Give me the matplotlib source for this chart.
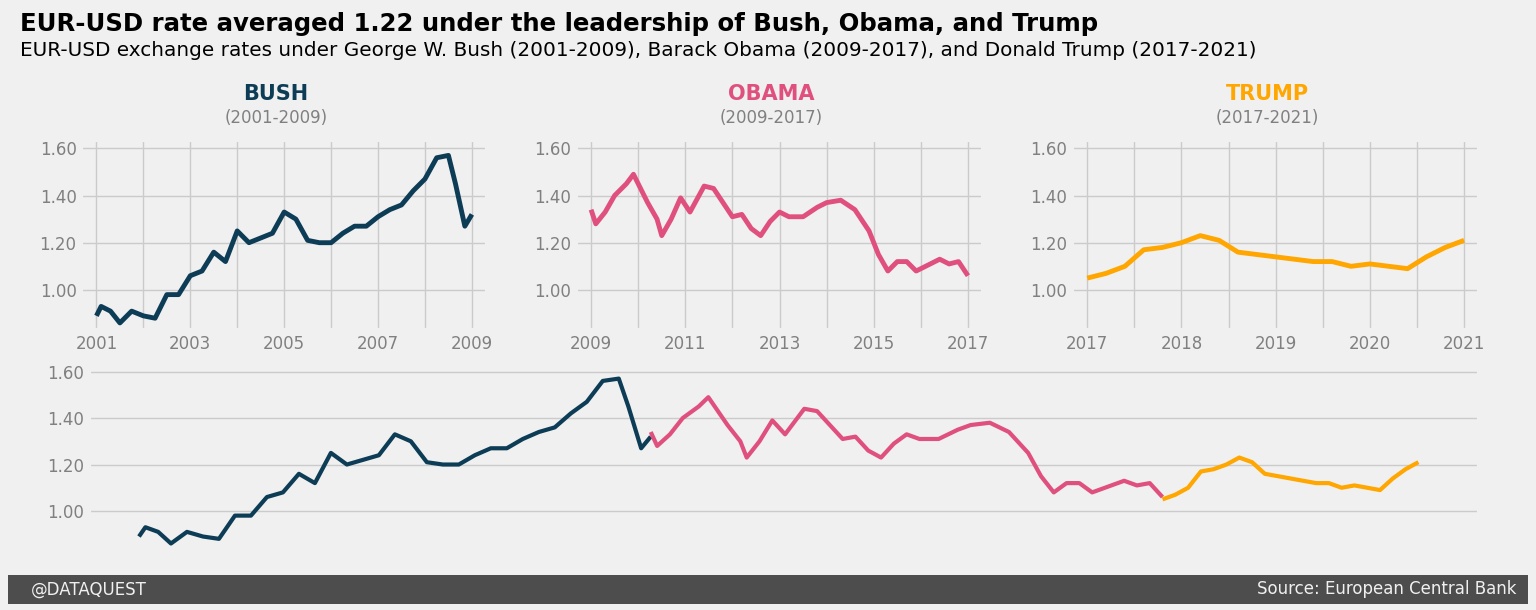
import matplotlib
matplotlib.use("Agg")
from matplotlib import pyplot as plt
from matplotlib.patches import Rectangle

plt.style.use("fivethirtyeight")

# decimal year / rate (30-day rolling mean)
bush_x = [2001.0, 2001.1, 2001.3, 2001.5, 2001.75, 2002.0, 2002.25, 2002.5, 2002.75,
          2003.0, 2003.25, 2003.5, 2003.75, 2004.0, 2004.25, 2004.5, 2004.75, 2005.0,
          2005.25, 2005.5, 2005.75, 2006.0, 2006.25, 2006.5, 2006.75, 2007.0, 2007.25,
          2007.5, 2007.75, 2008.0, 2008.25, 2008.5, 2008.65, 2008.85, 2009.0]
bush_y = [0.89, 0.93, 0.91, 0.86, 0.91, 0.89, 0.88, 0.98, 0.98,
          1.06, 1.08, 1.16, 1.12, 1.25, 1.20, 1.22, 1.24, 1.33,
          1.30, 1.21, 1.20, 1.20, 1.24, 1.27, 1.27, 1.31, 1.34,
          1.36, 1.42, 1.47, 1.56, 1.57, 1.45, 1.27, 1.32]
obama_x = [2009.0, 2009.1, 2009.3, 2009.5, 2009.75, 2009.9, 2010.2, 2010.4, 2010.5,
           2010.7, 2010.9, 2011.1, 2011.4, 2011.6, 2011.8, 2012.0, 2012.2, 2012.4,
           2012.6, 2012.8, 2013.0, 2013.2, 2013.5, 2013.8, 2014.0, 2014.3, 2014.6,
           2014.9, 2015.1, 2015.3, 2015.5, 2015.7, 2015.9, 2016.2, 2016.4, 2016.6,
           2016.8, 2017.0]
obama_y = [1.34, 1.28, 1.33, 1.40, 1.45, 1.49, 1.37, 1.30, 1.23,
           1.30, 1.39, 1.33, 1.44, 1.43, 1.37, 1.31, 1.32, 1.26,
           1.23, 1.29, 1.33, 1.31, 1.31, 1.35, 1.37, 1.38, 1.34,
           1.25, 1.15, 1.08, 1.12, 1.12, 1.08, 1.11, 1.13, 1.11,
           1.12, 1.06]
trump_x = [2017.0, 2017.2, 2017.4, 2017.6, 2017.8, 2018.0, 2018.2, 2018.4, 2018.6,
           2018.8, 2019.0, 2019.2, 2019.4, 2019.6, 2019.8, 2020.0, 2020.2, 2020.4,
           2020.6, 2020.8, 2021.0]
trump_y = [1.05, 1.07, 1.10, 1.17, 1.18, 1.20, 1.23, 1.21, 1.16,
           1.15, 1.14, 1.13, 1.12, 1.12, 1.10, 1.11, 1.10, 1.09,
           1.14, 1.18, 1.21]

bush_c, obama_c, trump_c = "#0d3d56", "#e0507e", "#ffa600"
yticks = [1.0, 1.2, 1.4, 1.6]
ylabels = ["1.00", "1.20", "1.40", "1.60"]

fig = plt.figure(figsize=(15.36, 6.1), dpi=100)
fig.patch.set_facecolor("#f0f0f0")

ax1 = fig.add_axes([0.053, 0.459, 0.264, 0.311])
ax2 = fig.add_axes([0.375, 0.459, 0.265, 0.311])
ax3 = fig.add_axes([0.698, 0.459, 0.265, 0.311])
ax4 = fig.add_axes([0.058, 0.09, 0.905, 0.316])

panels = [
    (ax1, bush_x, bush_y, bush_c, "BUSH", "(2001-2009)",
     [2001, 2003, 2005, 2007, 2009], [2001, 2009]),
    (ax2, obama_x, obama_y, obama_c, "OBAMA", "(2009-2017)",
     [2009, 2011, 2013, 2015, 2017], [2009, 2017]),
    (ax3, trump_x, trump_y, trump_c, "TRUMP", "(2017-2021)",
     [2017, 2018, 2019, 2020, 2021], [2017, 2021]),
]
for ax, x, y, c, name, span, ticks, lim in panels:
    ax.set_facecolor("#f0f0f0")
    ax.plot(x, y, color=c, linewidth=3.5)
    ax.set_ylim(0.83, 1.634)
    ax.set_yticks(yticks)
    ax.set_yticklabels(ylabels)
    ax.set_xticks(ticks)
    ax.set_xticklabels([str(t) for t in ticks])
    ax.set_xticks([t + (ticks[1] - ticks[0]) / 2 for t in ticks[:-1]], minor=True)
    ax.grid(True, which="both", axis="x", color="#cbcbcb", linewidth=1)
    ax.tick_params(colors="grey", labelsize=12, which="both", length=0)
    pad = (lim[1] - lim[0]) * 0.04
    ax.set_xlim(lim[0] - pad, lim[1] + pad)
    ax.text(0.48, 1.21, name, transform=ax.transAxes, ha="center",
            fontsize=15, weight="bold", color=c)
    ax.text(0.48, 1.09, span, transform=ax.transAxes, ha="center",
            fontsize=12, color="grey")

ax4.set_facecolor("#f0f0f0")
ax4.plot(bush_x, bush_y, color=bush_c, linewidth=3)
ax4.plot(obama_x, obama_y, color=obama_c, linewidth=3)
ax4.plot(trump_x, trump_y, color=trump_c, linewidth=3)
ax4.set_xlim(2000.22, 2021.95)
ax4.set_ylim(0.81, 1.64)
ax4.set_yticks(yticks)
ax4.set_yticklabels(ylabels)
ax4.set_xticks([])
ax4.tick_params(colors="grey", labelsize=12, length=0)

fig.text(0.013, 0.95, "EUR-USD rate averaged 1.22 under the leadership of Bush, Obama, and Trump",
         fontsize=17.6, weight="bold")
fig.text(0.013, 0.908, "EUR-USD exchange rates under George W. Bush (2001-2009), Barack Obama (2009-2017), "
         "and Donald Trump (2017-2021)", fontsize=14.4)

fig.patches.append(Rectangle((0.005, 0.01), 0.99, 0.048, transform=fig.transFigure,
                             facecolor="#4d4d4d", edgecolor="none"))
fig.text(0.02, 0.034, "@DATAQUEST", color="#f0f0f0", fontsize=12, va="center")
fig.text(0.987, 0.034, "Source: European Central Bank", color="#f0f0f0", fontsize=12,
         va="center", ha="right")

fig.savefig("out.png", dpi=100, facecolor=fig.get_facecolor())
